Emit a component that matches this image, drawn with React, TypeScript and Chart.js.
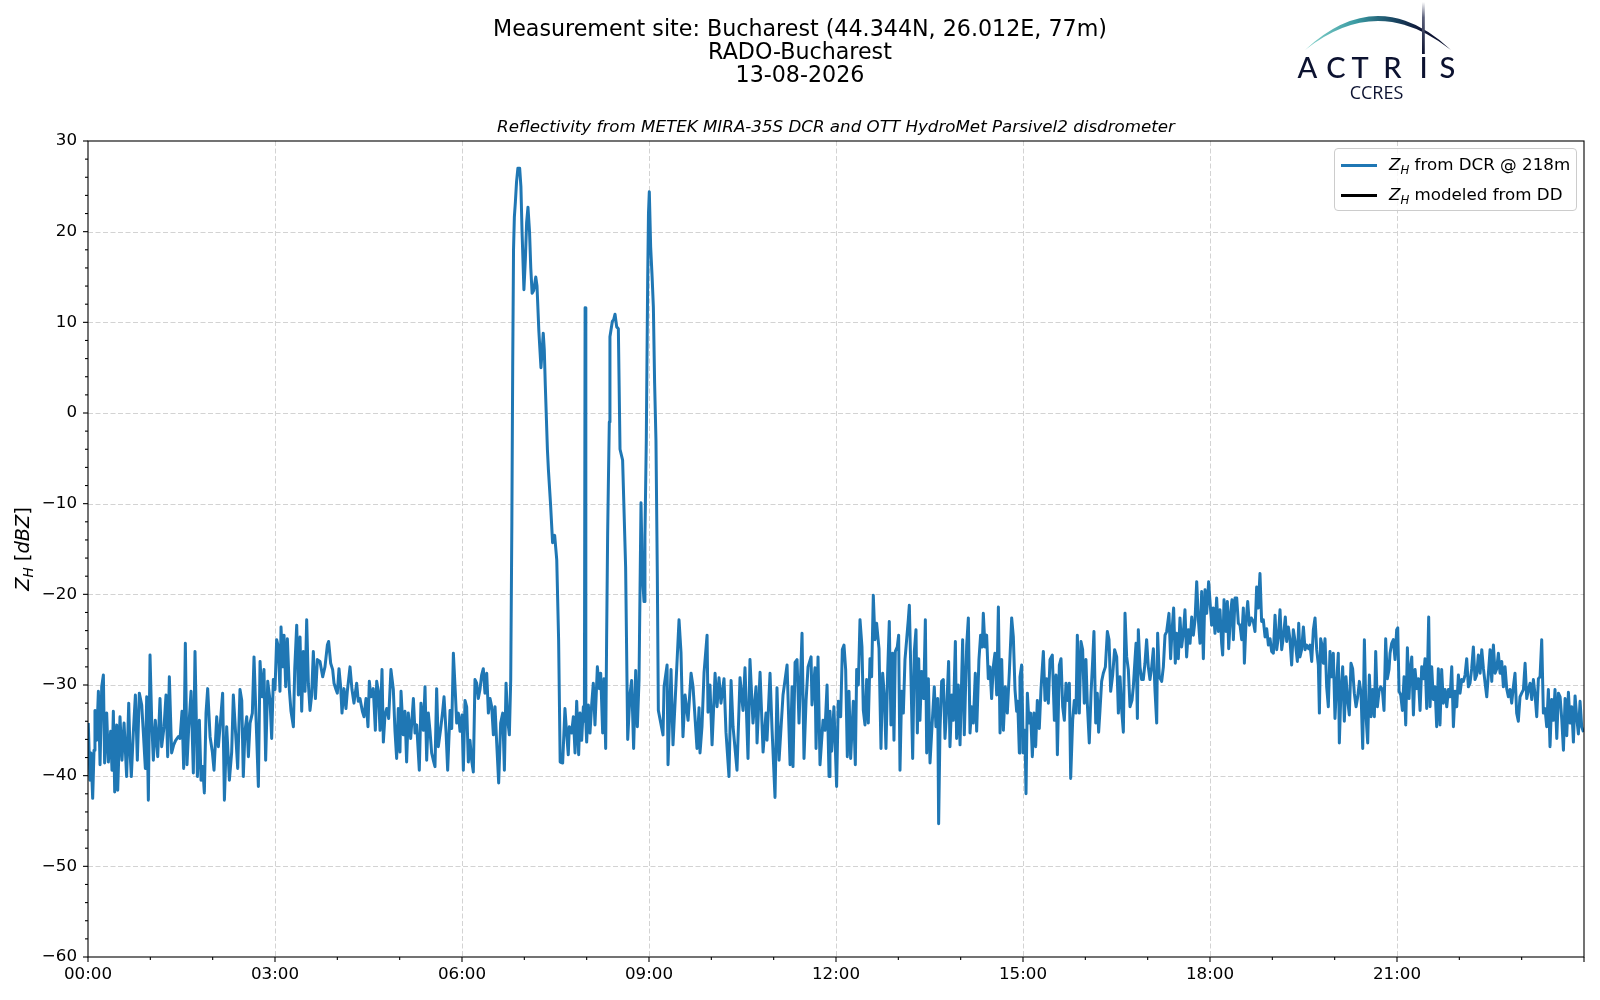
import React, { useEffect, useRef } from 'react';
import { Chart, registerables } from 'chart.js';

Chart.register(...registerables);

const FONT = '"DejaVu Sans", "Liberation Sans", sans-serif';

// ---------------- text ----------------
const titleLines = [
  'Measurement site: Bucharest (44.344N, 26.012E, 77m)',
  'RADO-Bucharest',
  '13-08-2026',
];
const subtitle = 'Reflectivity from METEK MIRA-35S DCR and OTT HydroMet Parsivel2 disdrometer';
const legendLabels = ['from DCR @ 218m', 'modeled from DD'];
const legendColors = ['#1f77b4', '#000000'];

// ---------------- axes ----------------
const xMajorMinutes = [0, 180, 360, 540, 720, 900, 1080, 1260];
const xTickLabels = ['00:00', '03:00', '06:00', '09:00', '12:00', '15:00', '18:00', '21:00'];
const yTickValues = [-60, -50, -40, -30, -20, -10, 0, 10, 20, 30];

// ---------------- data (minutes after 00:00 UTC, dBZ) ----------------
const tEarly = [
  0.3, 1.9, 2.9, 4.5, 5.8, 6.7, 8.3, 10, 11.6, 13.2,
  14.8, 16, 18, 19.6, 21.8, 23.1, 24.4, 25.7, 27.6, 28.6,
  30.8, 32.7, 34.7, 37.2, 39.2, 40.4, 41.7, 43.6, 45.6, 47.5,
  49.4, 51.7, 53.3, 55.2, 56.5, 58.1, 59.7, 61.3, 62.9, 64.8,
  67.1, 69.3, 70.9, 73.2, 75.1, 76.7, 78.3, 80.5, 82.5, 84.4,
  87, 88.6, 90.5, 92.1, 93.7, 95.3, 96.9, 99.2, 101.4, 103,
  105.3, 107.2, 108.8, 110.4, 112, 113.6, 115.2, 117.5, 119.7, 121.3,
  123.9, 125.5, 127.1, 129.6, 131.3, 133.5, 136.1, 138.3, 139.9, 142.5,
  144.1, 146.3, 148, 149.5, 151.1, 152.8, 154.4, 156, 158.2, 159.8,
  161.7, 164, 165.6, 167.5, 169.4, 171, 173, 175.2, 176.8, 178.4,
  180, 181.6, 183.2, 184.8, 185.8, 187.4, 188.7, 190.3, 191.9, 193.8,
  195.4, 197.7, 199, 200.9, 202.5, 204.1, 205.7, 207.3, 208.9, 210.5,
  212.1, 213.7, 215.3, 216.9, 218.9, 220.8,
];
const zEarly = [
  -34.2, -40.5, -37.5, -42.5, -37.2, -32.8, -36.1, -30.7, -38.8, -30.2,
  -28.9, -38.6, -33.1, -38.5, -35.1, -39.4, -32.9, -41.8, -34.4, -41.6,
  -33.5, -38.3, -34.2, -40.1, -32, -37.2, -40.1, -35.3, -31.1, -38.3,
  -30.9, -32.2, -35.3, -39.2, -31.3, -42.7, -26.7, -33.9, -38.3, -33.9,
  -37.9, -31.5, -36.8, -34.6, -31.1, -37.9, -29.1, -37.5, -36.6, -36.1,
  -35.7, -35.9, -32.9, -39.2, -25.4, -38.8, -34.8, -30.7, -39.7, -26.3,
  -40.1, -33.9, -40.5, -39, -41.9, -33.1, -30.4, -35.7, -37.4, -39.4,
  -33.5, -36.8, -34.6, -30.9, -42.7, -34.6, -40.5, -37.4, -31.1, -36.1,
  -39.2, -30.5, -31.7, -40.1, -35.1, -33.5, -37.9, -34.2, -33.1, -26.9,
  -33.5, -41.2, -27.4, -31.3, -28.3, -38.3, -29.6, -31.7, -35.9, -29.4,
  -30.5, -25, -25.8, -30.7, -23.6, -28, -24.5, -30.2, -24.9, -30.5,
  -32.9, -34.6, -28.2, -23.4, -31.1, -24.7, -32.9, -26.3, -30.7, -22.8,
  -29.8, -32.8, -31.1, -26.3, -31.5, -27.2,
];

const tMorning = [
  223.3, 225.9, 228.1, 230.4, 231.6, 233.6, 235.5, 236.8, 238.7, 240,
  241.6, 243.2, 244.5, 246.4, 248.3, 249.6, 252.2, 254.1, 256, 258.6,
  260.2, 261.8, 264.1, 265.7, 267.6, 269.5, 270.8, 272.4, 274.6, 276.6,
  277.9, 279.5, 281.1, 283, 284.3, 285.9, 287.5, 289.4, 291.6, 293.9,
  295.5, 297.1, 298.7, 300.3, 301.3, 303.5, 305.1, 306.7, 308.3, 310.6,
  313.2, 314.8, 316.4, 318.9, 320.5, 322.8, 324.4, 326, 327.6, 329.2,
  330.8, 332.4, 334, 335.6, 337.2, 339.5, 341.4, 342.7, 344.6, 346.2,
  348.5, 350.1, 351.7, 353.6, 354.9, 356.5, 358.1, 360, 361.3, 362.9,
  364.5, 366.1, 367.7, 369.3, 370.9, 372.5, 374.1, 375.7, 377.3, 378.9,
  380.5, 382.1, 383.8, 385.4, 387, 388.6, 390.2, 391.8, 393.4, 395.3,
  397.2, 399.2, 400.8, 402.4, 404, 405.6, 406.9,
];
const zMorning = [
  -27.4, -29.1, -28, -25.6, -25.2, -27.6, -28.3, -29.8, -30.5, -30.9,
  -28.2, -30.2, -33.1, -30.4, -32.6, -30.7, -28, -30.5, -32, -29.8,
  -31.8, -31.5, -32.9, -33.5, -31.5, -34.6, -29.6, -31.3, -30.4, -35,
  -29.6, -30.7, -35, -28.3, -36.3, -33.3, -32.6, -33.7, -28.3, -30.5,
  -35.1, -38.1, -32.6, -37.4, -30.7, -35.5, -32.9, -38.5, -33.1, -35.9,
  -31.5, -35.3, -34.4, -39.4, -32, -35, -30.2, -38.3, -33.1, -35.1,
  -37.5, -38.3, -39, -30.4, -36.8, -34.8, -32.9, -31.3, -35.1, -39.4,
  -32.8, -34.8, -26.5, -30.9, -34.2, -33.1, -35.1, -33.3, -39.4, -31.7,
  -32.4, -38.5, -36.1, -38.3, -39.6, -29.4, -29.8, -31.5, -30.5, -28.9,
  -28.2, -30.9, -28.7, -33.1, -31.5, -32.4, -35.5, -32.4, -36.4, -40.8,
  -34.2, -33.1, -39.4, -29.8, -33.9, -35.5, -29.4,
];

const tRain = [
  408, 408.8, 409.6, 410.4, 411.4, 412.5, 413.8, 415.5, 416.7, 417.8,
  419.6, 421, 422.2, 423.5, 425, 426.2, 427.5, 429, 431, 432.2,
  434, 436, 437.2, 438.2, 439.2, 440.2, 442.2, 443.2, 445.2, 447.2,
  449.2, 451.2, 453, 454.5, 456.9, 459.1, 460.7, 462.3, 463.3, 465.5,
  467.2, 468.8, 470.4, 472.3, 473.6, 475.2, 476.8, 477.8, 478.5, 479.2,
  480, 481.6, 483.2, 484.8, 486.4, 488, 490.3, 492.2, 493.5, 495.4,
  496.7, 498.3, 499.2, 500.2, 500.8, 501.8, 502.4, 504.7, 506, 507.3,
  508.9, 510.5, 512.1, 514.6, 517.5, 519.5, 521.7, 523.3, 525.2, 527.2,
  528.8, 530.4, 532.3, 533.6, 535.2, 536.1, 537.4, 538.7, 539.5, 540.3,
  541.6, 543, 544.2, 545.4, 546.7, 548, 549,
];
const zRain = [
  -12, 5, 18, 21.6, 23.3, 25.5, 27, 27, 25, 20,
  13.6, 17, 21, 22.7, 20, 16, 13.2, 13.5, 15, 14,
  9, 5, 7, 8.8, 7, 3, -4, -6.3, -10, -14.3,
  -13.5, -16.2, -25, -38.5, -38.6, -32.6, -35.3, -37.7, -34.6, -35.3,
  -33.5, -37.5, -31.8, -37.7, -33.1, -36.1, -32.4, -34, 11.6, -34,
  -36.3, -32.2, -35.3, -32.2, -29.8, -34.4, -28, -30.4, -28.7, -35.3,
  -29.3, -37, -25, -13.3, -8.5, -1, 8.4, 10.1, 10.3, 10.9,
  9.5, 9.3, -4, -5.2, -17, -36, -31, -29.5, -37, -28.4,
  -34.6, -29.5, -9.9, -17.7, -20.8, -13.6, -3, 14.3, 22, 24.4,
  18.3, 15, 11.7, 3.3, -3, -17.7, -32.8,
];

const tLateMorning = [
  553.5, 554.5, 557.4, 558.3, 561.2, 563.1, 566, 568.9, 570.8, 572.7,
  574.7, 577.6, 580.5, 582.4, 586.2, 588.2, 589.1, 591, 593, 595.9,
  596.8, 598.7, 600.7, 603.6, 605.5, 607.4, 609.3, 612.2, 614.1, 617,
  619, 620.9, 624.7, 627.6, 630.5, 632.4, 635.3, 637.2, 640.1, 643,
  644, 646.9, 649.8, 652.6, 653.6, 656.5, 658.4, 661.3, 663.2, 665.2,
  669, 672.9, 675.8, 677.7, 678.6, 680.6, 682.5, 684.4, 687.3, 689.2,
  691.2, 693.1, 696, 696.9, 699.8, 700.8, 702.7, 704.6, 707.5, 709.4,
  711.4, 713.3,
];
const zLateMorning = [
  -35.5, -30.2, -27.8, -38.8, -28.3, -36.6, -29.8, -22.8, -26.4, -35.7,
  -31.1, -33.9, -28.7, -30.2, -37, -32.5, -37.5, -34.6, -28.6, -24.5,
  -33, -30, -36.6, -28.7, -32.4, -29.2, -32, -29.3, -35.2, -40.1,
  -29.5, -34.6, -39.4, -29.2, -32.8, -28.1, -38.1, -27.2, -34.2, -30.2,
  -36.4, -28.6, -37.4, -33.1, -36.1, -28.7, -34.8, -42.4, -30.3, -38.3,
  -31.1, -27.8, -38.8, -30.2, -39, -27.5, -27.2, -34.2, -24.3, -38.1,
  -31.7, -28, -26.9, -32.2, -28.1, -37, -26.9, -38.8, -33.9, -35,
  -30, -40.1,
];

const tMidday = [
  714.2, 715.8, 718, 720.6, 722.2, 724.5, 726.1, 727.7, 729.3, 730.9,
  732.5, 734.1, 736.7, 738.6, 739.9, 741.5, 743.1, 745, 746.3, 747.9,
  749.5, 751.1, 752.7, 754.3, 755.9, 757.5, 759.1, 761.4, 763.3, 764.9,
  766.5, 768.1, 769.7, 771.3, 772.9, 774.5, 775.8, 777.1, 779, 780.3,
  781.6, 783.2, 784.8, 786.4, 788, 789.6, 790.6, 792.2, 793.8, 795.4,
  797, 798.3, 799.6, 800.8, 802.4, 804.4, 806, 807.3, 808.9, 810.5,
  812.4, 814.6, 816.2, 817.9, 818.8, 820.1, 821.7, 823.3, 824.9, 826.5,
  828.4, 829.7, 831.6, 832.9, 834.9, 836.1, 837.7, 839.4, 841.9, 843.5,
  845.8, 847.4, 849, 850.6, 852.2, 854.1, 855.4, 857.6, 859.2, 860.8,
  861.8, 863.4, 865, 866.6, 868.2, 869.8, 871.4, 873, 874.7, 876.3,
  877.9, 879.5, 881.1, 883, 884.9, 886.8, 889.1, 890.7, 892.3, 893.9,
  894.9, 896.5,
];
const zMidday = [
  -32.9, -37.3, -32.4, -41.2, -31.8, -33.5, -26.1, -25.6, -28.3, -37.9,
  -30.7, -38.1, -31.8, -38.8, -28.3, -30, -22.8, -25.8, -32.8, -34.4,
  -29.4, -34.2, -27.1, -29.1, -20.1, -25, -23.2, -26, -37, -28.7,
  -31.1, -37, -28.7, -23, -34.4, -26.5, -36.1, -26.3, -25.8, -24.5,
  -39.4, -30.7, -33.1, -27.2, -25, -22.8, -21.2, -29.3, -38.1, -26.3,
  -23.9, -35.3, -27.1, -33.9, -28.5, -31.5, -22.8, -37.5, -29.3, -38.6,
  -34.6, -30.2, -34.6, -31.5, -45.3, -35, -29.6, -29.4, -35.9, -32.8,
  -27.4, -36.8, -31.1, -33.9, -25.2, -35.9, -30, -36.6, -25, -35.5,
  -25.6, -22.6, -35.3, -32.4, -34.2, -28.7, -35.1, -27.2, -24.5, -25.8,
  -22.1, -25.8, -24.5, -29.3, -28, -31.5, -28, -26.5, -31.1, -21.4,
  -35.3, -27.2, -35, -30.2, -33.1, -28.7, -22.6, -24.7, -30.5, -32.9,
  -31.8, -37.5,
];

const tAfternoon = [
  897.1, 898.7, 900.3, 901.9, 902.9, 904.2, 905.8, 907.4, 909, 910.6,
  912.2, 913.8, 915.7, 917.3, 919.6, 921.2, 922.8, 924.4, 926, 928.2,
  930.2, 931.8, 933.1, 935, 936.6, 938.2, 939.8, 941.4, 943, 944.6,
  945.9, 947.8, 949.4, 951, 952.3, 954.2, 955.8, 957.4, 959, 960.6,
  961.9, 963.8, 965.5, 967.1, 968.3, 970, 971.5, 972.8, 974.1, 975.7,
  977.3, 979.3, 981.2, 982.8, 984.4, 986.3, 988.2, 990.2, 991.8, 993.4,
  995, 996.6, 998.2, 999.8, 1001.4, 1003, 1004.9, 1006.2, 1007.8, 1008.8,
  1010.1, 1011, 1012.6, 1014.2, 1015.8, 1017.4, 1019, 1020.6, 1022.2, 1023.9,
  1025.5, 1027.1, 1028.7, 1029.6, 1031.2, 1033.5, 1035.1, 1036.7, 1038.3, 1040.5,
  1042.1, 1043.4, 1045, 1046.6, 1047.9, 1049.5, 1051.1, 1052.7, 1054.3, 1055.9,
  1057.5, 1059.2, 1060.8, 1062.4, 1064, 1065.6, 1067.2, 1068.8, 1070.4, 1072,
  1073.6, 1075.2, 1076.8, 1078.7,
];
const zAfternoon = [
  -29.1, -27.8, -37.5, -35, -42, -30.9, -34.2, -33.1, -37.9, -33.1,
  -36.8, -31.7, -34.8, -30.5, -26.3, -31.7, -29.3, -32, -27.2, -26.7,
  -33.9, -28.9, -37.7, -27.8, -27.1, -32.4, -33.9, -29.8, -31.7, -29.8,
  -40.3, -33.9, -31.7, -33.1, -24.5, -33.1, -25.2, -26.1, -32, -27.2,
  -32, -36.4, -30.9, -27.2, -24.1, -34.2, -30.9, -35.2, -32.8, -29.6,
  -28.7, -28, -24.1, -25, -30.7, -28.9, -26.1, -26.9, -33.1, -29.1,
  -32.8, -35.2, -22.1, -26.9, -28.3, -32.4, -31.7, -30.2, -27.2, -25.4,
  -33.7, -23.9, -28, -29.4, -29.4, -27.6, -25, -28, -29.4, -28,
  -26, -30.7, -34.2, -24.3, -29.1, -29.6, -28, -24.5, -24.1, -22.1,
  -27.1, -24.1, -21.5, -27.6, -24.3, -27.1, -22.6, -25.8, -24.3, -21.7,
  -26.9, -23.9, -25.4, -22.5, -24.5, -22.8, -18.6, -22.8, -25.4, -19.7,
  -27.1, -19.5, -22.1, -18.6,
];

const tEvening = [
  1081.6, 1083.2, 1084.8, 1086.4, 1088, 1089.6, 1091.2, 1092.2, 1093.5, 1095.4,
  1096.7, 1098, 1099.9, 1101.2, 1102.5, 1104.1, 1105.7, 1107.3, 1108.9, 1110.5,
  1112.1, 1113.1, 1114.7, 1116.3, 1117.9, 1119.8, 1121.7, 1123.3, 1124.9, 1126.5,
  1128.1, 1129.7, 1131.3, 1133, 1134.6, 1136.2, 1137.8, 1139.4, 1141, 1142.6,
  1144.2, 1145.8, 1147.4, 1149, 1150.6, 1152.5, 1153.8, 1155.4, 1157, 1158.6,
  1160.2, 1162.2, 1164.1, 1165.4, 1166.6, 1168.2, 1169.9, 1171.5, 1173.1, 1175,
  1176.3, 1177.9, 1179.5, 1181.1, 1182.7, 1184.3, 1185.3, 1186.5, 1187.8, 1189.1,
  1190.7, 1192.3, 1193.9, 1195.5, 1197.1, 1198.7, 1200.3, 1201.9, 1203.5, 1204.5,
  1206.1, 1207.7, 1209.3, 1210.9, 1212.5, 1214.1, 1215.7, 1217.3, 1218.9, 1220.6,
  1222.2, 1223.8, 1225.4, 1227, 1228.6, 1230.2, 1231.8, 1233.4, 1235, 1236.6,
  1238.2, 1239.5, 1241.1, 1242.7, 1244.3, 1245.9, 1247.5, 1249.1, 1250.7, 1252.3,
];
const zEvening = [
  -23.4, -21.5, -24.3, -20.4, -24.1, -21.7, -25.4, -26.7, -20.6, -24.1,
  -20.8, -26, -21.9, -20.6, -25, -20.4, -20.4, -23.2, -23.4, -25,
  -21.5, -27.6, -23, -20.8, -23.4, -22.6, -23, -24.1, -19.2, -21.5,
  -17.7, -23, -22.8, -24.7, -23.8, -25.6, -24.9, -26.3, -26.5, -22.3,
  -26.1, -24.7, -21.7, -26.1, -24.7, -22.5, -25.2, -23.6, -25, -27.8,
  -23.9, -25.4, -27.4, -23.2, -26.9, -26.1, -23.6, -26.1, -25.6, -26,
  -25.6, -27.4, -23.9, -22.6, -26.1, -27.8, -33.1, -24.9, -25.6, -27.6,
  -24.9, -30.2, -32.4, -26.3, -29.1, -26.5, -33.7, -29.8, -26.5, -36.4,
  -30.5, -28, -34, -29.1, -31.7, -33.3, -27.6, -28.2, -30.9, -32.4,
  -31.3, -29.6, -30.9, -37, -25, -33.5, -36.4, -28.9, -33.5, -30.5,
  -33.5, -26.3, -32.4, -30.7, -30.2, -30.5, -32.8, -24.9, -29.3, -28.3,
];

const tNight = [
  1253.3, 1254.9, 1256.5, 1258.1, 1259.7, 1260.7, 1262, 1263.6, 1265.2, 1266.8,
  1268.4, 1270, 1271.6, 1272.6, 1274.2, 1275.8, 1277.4, 1279, 1280.6, 1282.2,
  1283.8, 1285.4, 1287, 1288.6, 1290.5, 1291.8, 1293.4, 1295, 1296.6, 1298.2,
  1299.8, 1301.4, 1303, 1304.6, 1306.3, 1307.9, 1309.5, 1311.1, 1312.7, 1314.3,
  1315.9, 1317.5, 1319.1, 1320.7, 1322.3, 1323.9, 1325.5, 1327.1, 1328.7, 1330.3,
  1331.9, 1333.5, 1335.1, 1336.7, 1338.3, 1340, 1341.6, 1343.2, 1344.8, 1346.4,
  1348, 1349.6, 1351.2, 1352.8, 1354.4, 1356, 1357.6, 1359.2, 1360.8, 1362.4,
  1364, 1365.6, 1367.2, 1368.8, 1370.4, 1372, 1373.6, 1375.2, 1376.8, 1378.4,
  1380, 1381.7, 1383.3, 1384.9, 1386.5, 1388.1, 1389.7, 1391.3, 1392.9, 1394.5,
  1396.1, 1397.7, 1399.3, 1400.9, 1402.5, 1404.1, 1405.7, 1407.3, 1408.9, 1410.5,
  1412.1, 1413.8, 1415.4, 1417,
];
const zNight = [
  -26.5, -25.4, -25, -27.2, -23.9, -23.7, -30.7, -31.1, -32.8, -29.1,
  -34.4, -25.9, -31.5, -28.5, -26.9, -33.3, -28.3, -30.4, -29.3, -32.8,
  -28, -29.3, -27.1, -32.6, -22.5, -32.4, -28, -31.6, -30.2, -34.6,
  -28.2, -34.4, -28.3, -32, -30.5, -32.4, -30.5, -31.3, -28, -34.6,
  -30.7, -32.4, -28.9, -30.9, -29.4, -29.6, -28.9, -27.1, -30.2, -29.8,
  -28.2, -25.8, -29.4, -28.9, -26.7, -28.7, -26.1, -28.2, -29.8, -31.3,
  -28.7, -26.1, -29.6, -25.6, -28.7, -28.2, -26.5, -28.7, -27.4, -30.2,
  -28, -30.4, -31.3, -30.5, -32, -30.2, -28.7, -33.1, -34, -31.3,
  -30.9, -30.5, -27.6, -31.5, -30.5, -29.8, -31.6, -29.4, -31.1, -33.5,
  -29.3, -29.1, -25, -33.1, -32.6, -34.6, -30.5, -36.8, -31.6, -33.9,
  -30.5, -35.9, -30.9, -31.3,
];

const tEnd = [1418.6, 1420.2, 1421.8, 1423.4, 1425, 1426.6, 1428.2, 1429.8, 1431.4, 1433, 1434.6, 1436.2, 1437.8, 1439.5];
const zEnd = [-33.8, -37.2, -31.5, -35.6, -30.8, -34.2, -32.4, -36.3, -31.2, -33.6, -35.4, -31.8, -34.6, -35.2];

const timeMinutes = [
  ...tEarly, ...tMorning, ...tRain, ...tLateMorning, ...tMidday,
  ...tAfternoon, ...tEvening, ...tNight, ...tEnd,
];
const zhDcr = [
  ...zEarly, ...zMorning, ...zRain, ...zLateMorning, ...zMidday,
  ...zAfternoon, ...zEvening, ...zNight, ...zEnd,
];
const zhDisdrometer: number[] = [];

// ---------------- chart decorations (grid, spines, ticks, y label) ----------------
const decorPlugin = {
  id: 'decor',
  beforeDatasetsDraw(chart: any) {
    const { ctx, chartArea: a, scales } = chart;
    ctx.save();
    ctx.strokeStyle = '#d3d3d3';
    ctx.lineWidth = 1;
    ctx.setLineDash([5, 2.5]);
    for (const m of xMajorMinutes) {
      if (m <= 0) continue;
      const px = Math.round(scales.x.getPixelForValue(m)) + 0.5;
      ctx.beginPath();
      ctx.moveTo(px, a.top);
      ctx.lineTo(px, a.bottom);
      ctx.stroke();
    }
    for (const v of yTickValues) {
      if (v <= -60 || v >= 30) continue;
      const py = Math.round(scales.y.getPixelForValue(v)) + 0.5;
      ctx.beginPath();
      ctx.moveTo(a.left, py);
      ctx.lineTo(a.right, py);
      ctx.stroke();
    }
    ctx.restore();
  },
  afterDatasetsDraw(chart: any) {
    const { ctx, chartArea: a, scales } = chart;
    ctx.save();
    ctx.strokeStyle = '#000';
    ctx.lineWidth = 1.1;
    ctx.setLineDash([]);
    ctx.strokeRect(a.left, a.top, a.right - a.left, a.bottom - a.top);
    // y ticks
    for (let v = -60; v <= 30; v += 2) {
      const py = scales.y.getPixelForValue(v);
      const len = v % 10 === 0 ? 5 : 3;
      ctx.beginPath();
      ctx.moveTo(a.left, py);
      ctx.lineTo(a.left - len, py);
      ctx.stroke();
    }
    // x ticks
    for (let m = 0; m <= 1440; m += 60) {
      const px = scales.x.getPixelForValue(m);
      const len = m % 180 === 0 ? 5 : 3;
      ctx.beginPath();
      ctx.moveTo(px, a.bottom);
      ctx.lineTo(px, a.bottom + len);
      ctx.stroke();
    }
    // y axis label: Z_H [dBZ]
    const fs = 19.4;
    const parts = [
      { t: 'Z', f: `italic ${fs}px ${FONT}`, dy: 0 },
      { t: 'H', f: `italic ${fs * 0.7}px ${FONT}`, dy: fs * 0.22 },
      { t: ' [', f: `${fs}px ${FONT}`, dy: 0 },
      { t: 'dBZ', f: `italic ${fs}px ${FONT}`, dy: 0 },
      { t: ']', f: `${fs}px ${FONT}`, dy: 0 },
    ];
    let total = 0;
    const widths = parts.map((p) => {
      ctx.font = p.f;
      const w = ctx.measureText(p.t).width;
      total += w;
      return w;
    });
    ctx.translate(28.5, (a.top + a.bottom) / 2);
    ctx.rotate(-Math.PI / 2);
    ctx.fillStyle = '#000';
    ctx.textBaseline = 'alphabetic';
    ctx.textAlign = 'left';
    let x = -total / 2;
    parts.forEach((p, i) => {
      ctx.font = p.f;
      ctx.fillText(p.t, x, p.dy);
      x += widths[i];
    });
    ctx.restore();
  },
};

function ZH({ size }: { size: number }) {
  return (
    <span>
      <span style={{ fontStyle: 'italic' }}>Z</span>
      <span style={{ fontStyle: 'italic', fontSize: size * 0.7, position: 'relative', top: size * 0.22 }}>H</span>
    </span>
  );
}

export default function App() {
  const ref = useRef<HTMLCanvasElement | null>(null);

  useEffect(() => {
    const canvas = ref.current;
    if (!canvas) return;
    const points = timeMinutes.map((t, i) => ({ x: t, y: zhDcr[i] }));
    const chart = new Chart(canvas, {
      type: 'line',
      data: {
        datasets: [
          {
            label: 'Z_H ' + legendLabels[0],
            data: points,
            borderColor: legendColors[0],
            backgroundColor: legendColors[0],
            borderWidth: 3,
            pointRadius: 0,
            tension: 0,
            fill: false,
            borderJoinStyle: 'round',
          },
          {
            label: 'Z_H ' + legendLabels[1],
            data: zhDisdrometer,
            borderColor: legendColors[1],
            borderWidth: 3,
            pointRadius: 0,
            fill: false,
          },
        ],
      },
      options: {
        animation: false,
        responsive: false,
        devicePixelRatio: 1,
        layout: { padding: { left: 0, right: 16, top: 141, bottom: 0 } },
        plugins: {
          legend: { display: false },
          tooltip: { enabled: false },
          title: { display: false },
        },
        scales: {
          x: {
            type: 'linear',
            min: 0,
            max: 1440,
            afterFit: (s: any) => {
              s.height = 43;
            },
            grid: { display: false, drawTicks: false },
            border: { display: false },
            ticks: {
              stepSize: 180,
              autoSkip: false,
              maxRotation: 0,
              padding: 8,
              color: '#000',
              font: { family: FONT, size: 16.7 },
              callback: (v: any) => {
                const i = xMajorMinutes.indexOf(Number(v));
                return i >= 0 ? xTickLabels[i] : '';
              },
            },
          },
          y: {
            min: -60,
            max: 30,
            afterFit: (s: any) => {
              s.width = 88;
            },
            grid: { display: false, drawTicks: false },
            border: { display: false },
            ticks: {
              stepSize: 10,
              autoSkip: false,
              padding: 11,
              color: '#000',
              font: { family: FONT, size: 16.7 },
              callback: (v: any) => (Number(v) < 0 ? '\u2212' + Math.abs(Number(v)) : String(v)),
            },
          },
        },
      },
      plugins: [decorPlugin],
    } as any);
    return () => chart.destroy();
  }, []);

  return (
    <div style={{ position: 'absolute', left: 0, top: 0, width: 1600, height: 1000, background: '#fff', overflow: 'hidden' }}>
      <canvas ref={ref} width={1600} height={1000} style={{ position: 'absolute', left: 0, top: 0, width: 1600, height: 1000 }} />

      {/* titles */}
      <div style={{ position: 'absolute', left: 0, top: 17, width: 1600, textAlign: 'center', fontFamily: FONT, fontSize: 22.2, lineHeight: '23px', color: '#000' }}>
        {titleLines.map((l, i) => (
          <div key={i}>{l}</div>
        ))}
      </div>
      <div style={{ position: 'absolute', left: 88, top: 115.5, width: 1496, textAlign: 'center', fontFamily: FONT, fontSize: 16.7, fontStyle: 'italic', lineHeight: '20px', color: '#000' }}>
        {subtitle}
      </div>

      {/* legend */}
      <div style={{ position: 'absolute', left: 1334, top: 148, width: 243, height: 63, border: '1px solid #cccccc', borderRadius: 4, background: 'rgba(255,255,255,0.8)', boxSizing: 'border-box', fontFamily: FONT, fontSize: 16.7, color: '#000' }}>
        {legendLabels.map((lab, i) => (
          <div key={i} style={{ position: 'absolute', left: 0, top: 4 + i * 30, height: 24, width: 243, display: 'flex', alignItems: 'center', whiteSpace: 'nowrap' }}>
            <div style={{ marginLeft: 6, width: 36, height: 3, background: legendColors[i] }} />
            <div style={{ marginLeft: 12, lineHeight: '24px' }}>
              <ZH size={16.7} /> {lab}
            </div>
          </div>
        ))}
      </div>

      {/* ACTRIS CCRES logo */}
      <svg width={1600} height={110} style={{ position: 'absolute', left: 0, top: 0, pointerEvents: 'none' }}>
        <defs>
          <linearGradient id="arcGrad" gradientUnits="userSpaceOnUse" x1="1306" y1="0" x2="1450" y2="0">
            <stop offset="0" stopColor="#86d3cb" />
            <stop offset="0.35" stopColor="#3a9aa2" />
            <stop offset="0.6" stopColor="#1b4a66" />
            <stop offset="0.8" stopColor="#0e1535" />
            <stop offset="1" stopColor="#0c1230" />
          </linearGradient>
          <linearGradient id="poleGrad" gradientUnits="userSpaceOnUse" x1="0" y1="2" x2="0" y2="54">
            <stop offset="0" stopColor="#ffffff" />
            <stop offset="0.3" stopColor="#5a5f7a" />
            <stop offset="1" stopColor="#0c1230" />
          </linearGradient>
        </defs>
        <path d="M1305,50 Q1378,-18 1451,50 Q1378,-8 1305,50 Z" fill="url(#arcGrad)" />
        <rect x={1422} y={2} width={2.8} height={52} fill="url(#poleGrad)" />
        <g fill="#0c1230" fontFamily="Lato, 'Open Sans', sans-serif" fontSize={29} textAnchor="middle" fontWeight={500}>
          <text x={1307.5} y={78}>A</text>
          <text x={1336} y={78}>C</text>
          <text x={1360} y={78}>T</text>
          <text x={1392.5} y={78}>R</text>
          <text x={1423.5} y={78}>I</text>
          <text x={1447.5} y={78}>S</text>
        </g>
        <text x={1376.5} y={99} fill="#0c1230" fontFamily="'Open Sans', sans-serif" fontSize={18} textAnchor="middle">
          CCRES
        </text>
      </svg>
    </div>
  );
}
